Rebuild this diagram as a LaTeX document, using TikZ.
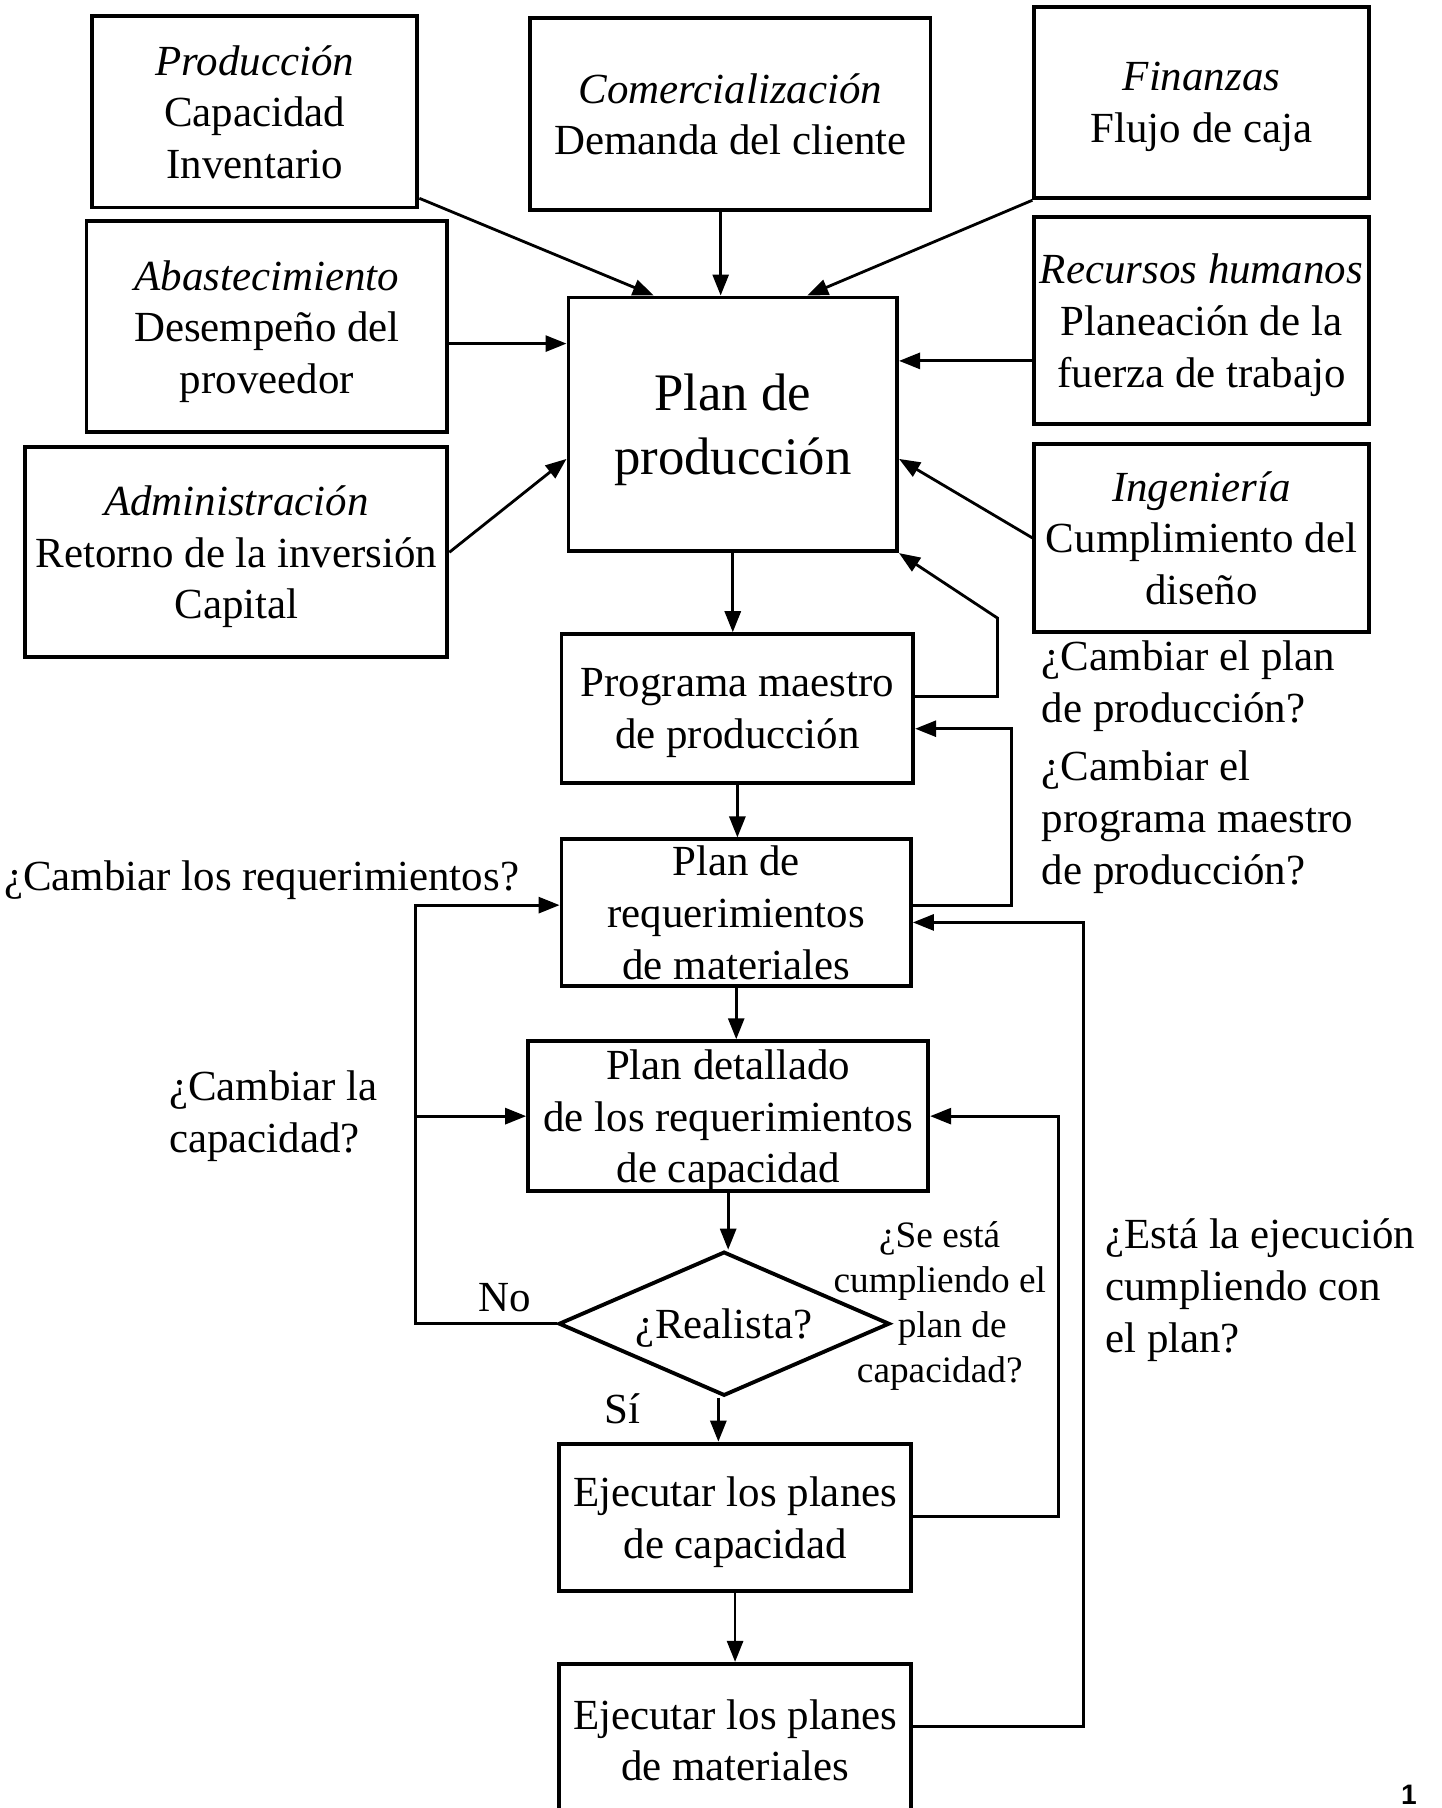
\documentclass[tikz,border=0pt]{standalone}
\usepackage{fontspec}
\setmainfont{Liberation Serif}
\newfontfamily\numfont{Liberation Sans}
\usetikzlibrary{arrows.meta,shapes.geometric}
\newcommand{\pu}{0.011528cm}
\tikzset{
  box/.style n args={2}{draw, line width=1.1pt, minimum width=#1*\pu, minimum height=#2*\pu,
    inner sep=0pt, align=center, text depth=0pt, font=\fontsize{12.2}{14.7}\selectfont},
  arr/.style={line width=0.8pt, -{Triangle[length=2.1mm,width=1.6mm]}},
  lbl/.style={inner sep=0pt, align=left, font=\fontsize{12.2}{14.7}\selectfont},
}
\begin{document}
\begin{tikzpicture}[x=\pu,y=\pu]
	\useasboundingbox (0,0) rectangle (1250,1568);
	\clip (0,0) rectangle (1250,1568);
	% areas around the plan
	\node[box={282}{166}] (prod) at (221,1471) {\textit{Producción}\\Capacidad\\Inventario};
	\node[box={347}{166}] (com) at (633.5,1469) {\textit{Comercialización}\\Demanda del cliente};
	\node[box={290}{166}] (fin) at (1042,1479) {\textit{Finanzas}\\Flujo de caja};
	\node[box={313}{183}] (aba) at (231.5,1284.5) {\textit{Abastecimiento}\\Desempeño del\\proveedor};
	\node[box={285}{220}, font=\fontsize{15}{18}\selectfont] (plan) at (635.5,1200) {Plan de\\producción};
	\node[box={290}{180}] (rrhh) at (1042,1290) {\textit{Recursos humanos}\\Planeación de la\\fuerza de trabajo};
	\node[box={366}{182}] (adm) at (205,1089) {\textit{Administración}\\Retorno de la inversión\\Capital};
	\node[box={290}{163}] (ing) at (1042,1101.5) {\textit{Ingeniería}\\Cumplimiento del\\diseño};
	% main chain
	\node[box={305}{129}] (pmp) at (639.5,953.5) {Programa maestro\\de producción};
	\node[box={303}{127}] (mrp) at (638.5,776.5) {Plan de\\requerimientos\\de materiales};
	\node[box={347}{130}] (crp) at (631.5,600) {Plan detallado\\de los requerimientos\\de capacidad};
	\node[diamond, draw, line width=1.1pt, aspect=2.3, minimum width=287*\pu, minimum height=125*\pu,
	  inner sep=0pt, text depth=0pt, font=\fontsize{12.2}{14.7}\selectfont] (real) at (628,420) {¿Realista?};
	\node[box={305}{128}] (ejc) at (637.5,252) {Ejecutar los planes\\de capacidad};
	\node[box={305}{132}] (ejm) at (637.5,59) {Ejecutar los planes\\de materiales};
	
	\draw[arr] (prod.east |- 0,1396) -- (plan.north -| 567,0);
	\draw[arr] (com.south -| 625,0) -- (plan.north -| 625,0);
	\draw[arr] (fin.south west) -- (plan.north -| 700,0);
	\draw[arr] (aba.east |- 0,1270) -- (plan.west |- 0,1270);
	\draw[arr] (rrhh.west |- 0,1255) -- (plan.east |- 0,1255);
	\draw[arr] (adm.east) -- (plan.west |- 0,1170);
	\draw[arr] (ing.west) -- (plan.east |- 0,1170);
	\draw[arr] (plan.south) -- (plan.south |- pmp.north);
	\draw[arr] (pmp.south) -- (pmp.south |- mrp.north);
	\draw[arr] (mrp.south) -- (mrp.south |- crp.north);
	\draw[arr] (crp.south) -- (crp.south |- real.north);
	\draw[arr] (real.south -| 623,0) -- (ejc.north -| 623,0);
	\draw[arr] (ejc.south) -- (ejm.north);
	% feedback loops
	\draw[arr] (pmp.east |- 0,964) -- (865,964) -- (865,1032) -- (plan.south east);
	\draw[arr] (mrp.east |- 0,783) -| (877,936) -- (pmp.east |- 0,936);
	\draw[arr] (ejm.east |- 0,71) -| (940,768) -- (mrp.east |- 0,768);
	\draw[arr] (ejc.east |- 0,253) -| (918,600) -- (crp.east);
	\draw[arr] (real.west) -| (360,783) -- (mrp.west |- 0,783);
	\coordinate (capfork) at (360,600);
	\draw[arr] (capfork) -- (crp.west);
	
	\node[lbl, anchor=west] (q1) at (903,973) {¿Cambiar el plan\\de producción?};
	\node[lbl, anchor=west] (q2) at (903,855) {¿Cambiar el\\programa maestro\\de producción?};
	\node[lbl, anchor=west] (q3) at (3,805) {¿Cambiar los requerimientos?};
	\node[lbl, anchor=west] (q4) at (146,600) {¿Cambiar la\\capacidad?};
	\node[lbl] (no) at (438,443) {No};
	\node[lbl] (si) at (540,346) {Sí};
	\node[lbl, align=center, font=\fontsize{10.6}{12.8}\selectfont] (q5) at (815,435) {¿Se está\\cumpliendo el\\\hspace*{0.25cm}plan de\\capacidad?};
	\node[lbl, anchor=west] (q6) at (958,449) {¿Está la ejecución\\cumpliendo con\\el plan?};
	\node[inner sep=0pt, font=\numfont\bfseries\fontsize{8}{9}\selectfont] (pg) at (1222,11) {1};
\end{tikzpicture}
\end{document}
